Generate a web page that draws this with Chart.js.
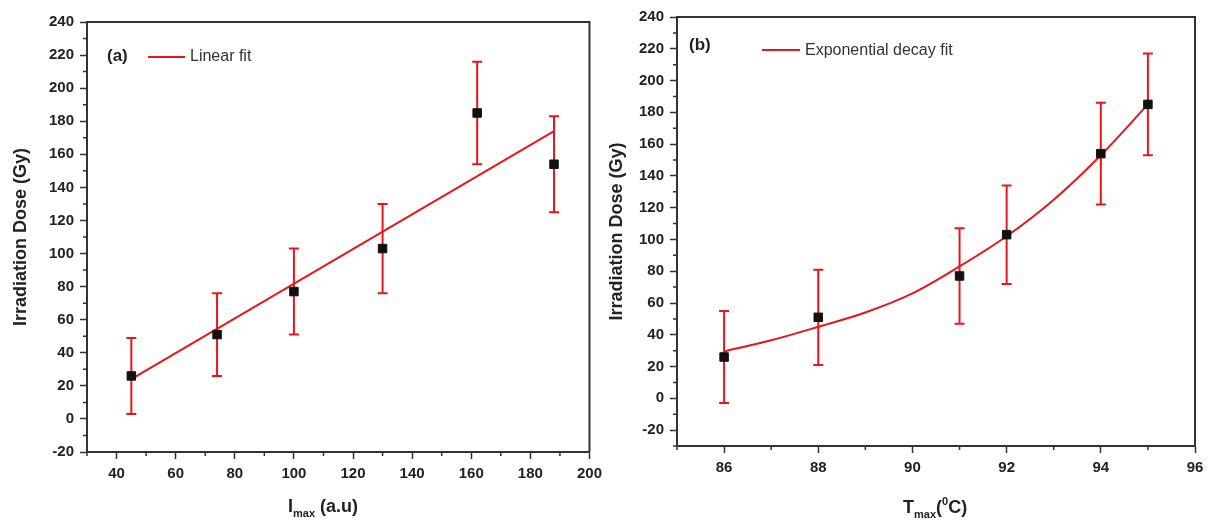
<!DOCTYPE html>
<html>
<head>
<meta charset="utf-8">
<script src="https://cdn.jsdelivr.net/npm/chart.js@4.4.0/dist/chart.umd.min.js"></script>
<style>
  body { margin: 0; background: #fff; width: 1211px; height: 528px; position: relative; overflow: hidden;
         font-family: "Liberation Sans", Arial, sans-serif; color: #222; }
  .box { position: absolute; top: 0; height: 528px; }
  #boxA { left: 0; width: 608px; }
  #boxB { left: 600px; width: 611px; }
  .txt { position: absolute; white-space: nowrap; line-height: 1; }
  .bold { font-weight: bold; }
  .key { position: absolute; height: 2px; background: #e8161b; }
  sub { font-size: 11px; vertical-align: -5px; }
  sup { font-size: 11px; vertical-align: 8px; }
</style>
</head>
<body>
<div class="box" id="boxA"><canvas id="chartA"></canvas></div>
<div class="box" id="boxB"><canvas id="chartB"></canvas></div>

<!-- legendas e títulos do eixo x -->
<div class="txt bold" style="left:107px;top:47px;font-size:17px">(a)</div>
<div class="key" style="left:148px;top:56px;width:37px"></div>
<div class="txt" style="left:190px;top:48px;font-size:16px;color:#333">Linear fit</div>
<div class="txt bold" style="left:288px;top:497px;font-size:18px">I<sub>max</sub> (a.u)</div>

<div class="txt bold" style="left:689px;top:36px;font-size:17px">(b)</div>
<div class="key" style="left:762px;top:49px;width:38px"></div>
<div class="txt" style="left:805px;top:42px;font-size:16px;color:#333">Exponential decay fit</div>
<div class="txt bold" style="left:903px;top:496px;font-size:18px">T<sub>max</sub>(<sup>0</sup>C)</div>

<script>
/* valores */

// (a) dose x Imax
const imaxA = [45, 74, 100, 130, 162, 188];
const doseA = [26, 51, 77, 103, 185, 154];
const errA = [23, 25, 26, 27, 31, 29];
const fitXA = [45, 188];
const fitYA = [24, 174];

// (b) dose x Tmax
const tmaxB = [86, 88, 91, 92, 94, 95];
const doseB = [26, 51, 77, 103, 154, 185];
const errB = [29, 30, 30, 31, 32, 32];
const fitXB = [86, 87, 88, 89, 90, 91, 92, 93, 94, 95];
const fitYB = [29.5, 36.5, 45, 54, 66, 83, 102, 125, 153, 185];

const RED = "#e8161b";
const AXIS = "#333";
const TICK_FONT = { family: "'Liberation Sans Narrow', 'Arial Narrow', 'Liberation Sans', Arial", size: 15, weight: "bold" };

function pontos(xs, ys) {
  return xs.map((x, i) => ({ x: x, y: ys[i] }));
}

/* barras de erro */
const errorBars = {
  id: "errorBars",
  beforeDatasetsDraw(chart, args, opts) {
    const ctx = chart.ctx;
    const sx = chart.scales.x, sy = chart.scales.y;
    const ds = chart.data.datasets[0];
    ctx.save();
    ctx.strokeStyle = RED;
    ctx.lineWidth = 2;
    opts.err.forEach((e, i) => {
      const p = ds.data[i];
      const x = sx.getPixelForValue(p.x);
      const y1 = sy.getPixelForValue(p.y + e);
      const y2 = sy.getPixelForValue(p.y - e);
      ctx.beginPath();
      ctx.moveTo(x, y1); ctx.lineTo(x, y2);
      ctx.moveTo(x - 5, y1); ctx.lineTo(x + 5, y1);
      ctx.moveTo(x - 5, y2); ctx.lineTo(x + 5, y2);
      ctx.stroke();
    });
    ctx.restore();
  }
};

/* moldura (topo e direita) + ticks menores */
const frame = {
  id: "frame",
  afterDraw(chart, args, opts) {
    const a = chart.chartArea, ctx = chart.ctx;
    ctx.save();
    ctx.strokeStyle = AXIS;
    ctx.lineWidth = 2;
    ctx.beginPath();
    ctx.moveTo(a.left, a.top); ctx.lineTo(a.right, a.top); ctx.lineTo(a.right, a.bottom);
    ctx.stroke();
    // ticks menores, mais curtos
    ctx.lineWidth = 1.5;
    ctx.beginPath();
    const sx = chart.scales.x, sy = chart.scales.y;
    sx.ticks.forEach(t => {
      if (Math.round(t.value) % opts.majorX !== 0) {
        const x = sx.getPixelForValue(t.value);
        ctx.moveTo(x, a.bottom); ctx.lineTo(x, a.bottom + 4);
      }
    });
    sy.ticks.forEach(t => {
      if (Math.round(t.value) % 20 !== 0) {
        const y = sy.getPixelForValue(t.value);
        ctx.moveTo(a.left, y); ctx.lineTo(a.left - 4, y);
      }
    });
    ctx.stroke();
    ctx.restore();
  }
};

function eixo(min, max, step, labelEvery, extra) {
  const major = c => Math.round(c.tick.value) % labelEvery === 0;
  return Object.assign({
    type: "linear",
    min: min,
    max: max,
    ticks: {
      stepSize: step,
      autoSkip: false,
      maxRotation: 0,
      color: "#222",
      font: TICK_FONT,
      padding: 6,
      callback: v => (Math.round(v) % labelEvery === 0 ? v : "")
    },
    grid: {
      drawOnChartArea: false,
      tickLength: 7,
      tickWidth: 1.5,
      tickColor: c => (major(c) ? AXIS : "rgba(0,0,0,0)")
    },
    border: { color: AXIS, width: 2 }
  }, extra);
}

function grafico(id, xs, ys, err, fx, fy, xScale, yScale, pad, curva, majorX) {
  return new Chart(document.getElementById(id), {
    type: "scatter",
    data: {
      datasets: [
        {
          data: pontos(xs, ys),
          pointStyle: "rect",
          pointRadius: 6,
          backgroundColor: "#111",
          borderColor: "#111",
          borderWidth: 1,
          order: 0
        },
        {
          data: pontos(fx, fy),
          showLine: true,
          pointRadius: 0,
          borderColor: RED,
          borderWidth: 2,
          cubicInterpolationMode: curva ? "monotone" : "default",
          order: 1
        }
      ]
    },
    options: {
      responsive: true,
      maintainAspectRatio: false,
      animation: false,
      layout: { padding: pad },
      plugins: {
        legend: { display: false },
        tooltip: { enabled: false },
        errorBars: { err: err },
        frame: { majorX: majorX }
      },
      scales: { x: xScale, y: yScale }
    },
    plugins: [errorBars, frame]
  });
}

const tituloY = {
  display: true,
  text: "Irradiation Dose (Gy)",
  color: "#222",
  font: { family: "'Liberation Sans', Arial", size: 18, weight: "bold" },
  padding: { top: 10, bottom: 0 }
};

grafico("chartA", imaxA, doseA, errA, fitXA, fitYA,
  eixo(30, 200, 10, 20, { afterFit: s => { s.height = 76; } }),
  eixo(-20, 240, 10, 20, { afterFit: s => { s.width = 87; }, title: tituloY }),
  { top: 22, right: 3, left: 0, bottom: 0 }, false, 20);

grafico("chartB", tmaxB, doseB, errB, fitXB, fitYB,
  eixo(85, 96, 1, 2, { afterFit: s => { s.height = 82; } }),
  eixo(-30, 240, 10, 20, { afterFit: s => { s.width = 77; }, title: Object.assign({}, tituloY, { padding: { top: 6, bottom: 0 } }) }),
  { top: 17, right: 16, left: 0, bottom: 0 }, true, 2);
</script>
</body>
</html>
